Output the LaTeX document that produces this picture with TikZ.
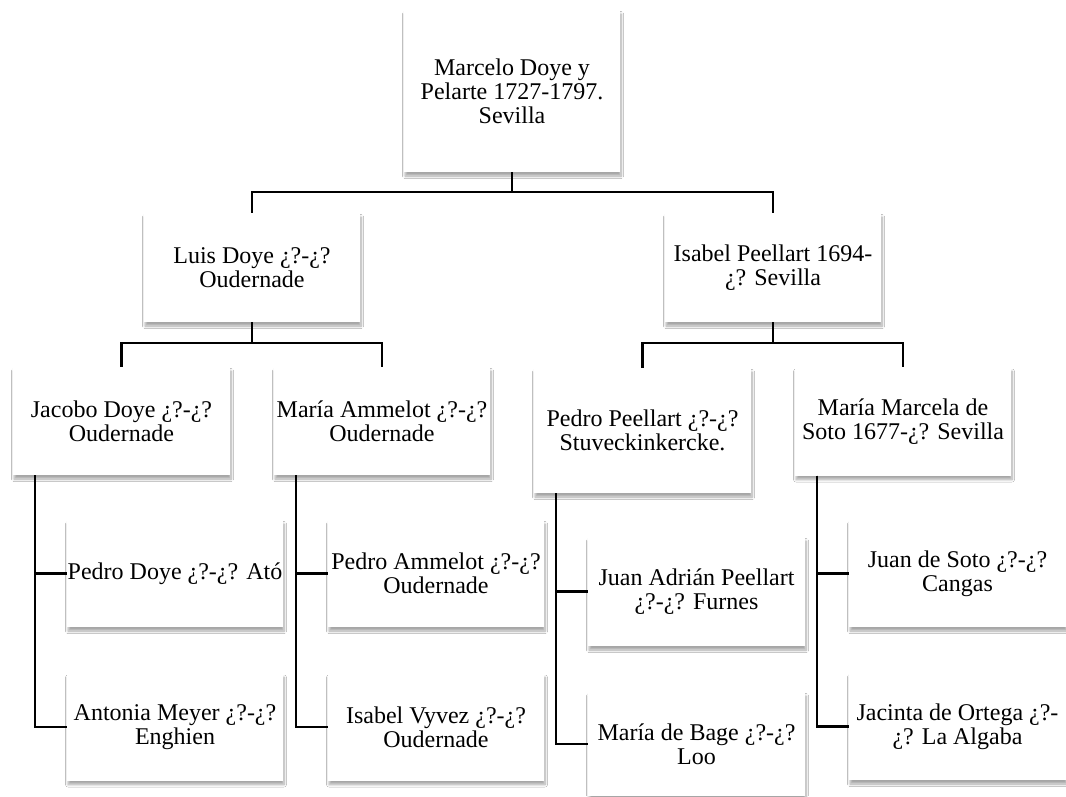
\documentclass[tikz,border=0pt]{standalone}
\usepackage{fontspec}
\setmainfont{Liberation Serif}
\usetikzlibrary{shadows.blur,calc}
\begin{document}
\begin{tikzpicture}[x=1pt,y=-1pt,
  person/.style={fill=white, draw=none, align=center, inner sep=0pt,
    minimum width=216pt, minimum height=107pt,
    font=\fontsize{24}{24}\selectfont,
    blur shadow={shadow xshift=1pt, shadow yshift=-4pt, shadow blur steps=8,
      shadow blur radius=2.5pt, shadow opacity=35}},
  link/.style={draw=black, line width=2.2pt}]
\fill[white] (0,0) rectangle (1066,796);
\useasboundingbox (0,0) rectangle (1066,796);

\node[person, minimum height=162pt] (top) at (512,91) {Marcelo Doye y\\Pelarte 1727-1797.\\Sevilla};
\node[person, minimum height=109pt] (luis) at (252,267.5) {Luis Doye ¿?-¿?\\Oudernade};
\node[person, minimum height=109pt] (isabel) at (773,267.5) {Isabel Peellart 1694-\\¿? Sevilla};

\node[person, minimum width=217pt, minimum height=108pt] (jacobo) at (121.5,421) {Jacobo Doye ¿?-¿?\\Oudernade};
\node[person, minimum height=108pt] (ammelot) at (382,421) {María Ammelot ¿?-¿?\\Oudernade};
\node[person, minimum width=217pt, minimum height=125pt] (pedroP) at (642.5,430.5) {Pedro Peellart ¿?-¿?\\Stuveckinkercke.};
\node[person, minimum height=108pt] (marcela) at (903,421.5) {María Marcela de\\Soto 1677-¿? Sevilla};

\node[person] (pedroD) at (175,573.5) {Pedro Doye ¿?-¿? Ató};
\node[person] (antonia) at (175,727) {Antonia Meyer ¿?-¿?\\Enghien};
\node[person] (pedroA) at (436,573.5) {Pedro Ammelot ¿?-¿?\\Oudernade};
\node[person] (isabelV) at (436,727) {Isabel Vyvez ¿?-¿?\\Oudernade};
\node[person, minimum width=217pt, minimum height=109pt] (juan) at (696.5,591.5) {Juan Adrián Peellart\\¿?-¿? Furnes};
\node[person, minimum width=217pt, minimum height=104pt] (bage) at (696.5,744) {María de Bage ¿?-¿?\\Loo};
\node[person, minimum width=217pt] (juanS) at (957.5,573.5) {Juan de Soto ¿?-¿?\\Cangas};
\node[person, minimum width=217pt] (jacinta) at (957.5,726.5) {Jacinta de Ortega ¿?-\\¿? La Algaba};

\draw[link] (top.south) -- ++(0,20) -| (luis.north);
\draw[link] (top.south) -- ++(0,20) -| (isabel.north);
\draw[link] (luis.south) -- ++(0,21) -| (jacobo.north);
\draw[link] (luis.south) -- ++(0,21) -| (ammelot.north);
\draw[link] (isabel.south) -- ++(0,21) -| (pedroP.north);
\draw[link] (isabel.south) -- ++(0,21) -| (marcela.north);

\coordinate (jv) at ($(jacobo.south west)+(22,0)$);
\draw[link] (jv) |- (pedroD.west);
\draw[link] (jv) |- (antonia.west);
\coordinate (av) at ($(ammelot.south west)+(22,0)$);
\draw[link] (av) |- (pedroA.west);
\draw[link] (av) |- (isabelV.west);
\coordinate (pv) at ($(pedroP.south west)+(22,0)$);
\draw[link] (pv) |- (juan.west);
\draw[link] (pv) |- (bage.west);
\coordinate (mv) at ($(marcela.south west)+(22,0)$);
\draw[link] (mv) |- (juanS.west);
\draw[link] (mv) |- (jacinta.west);
\end{tikzpicture}
\end{document}
